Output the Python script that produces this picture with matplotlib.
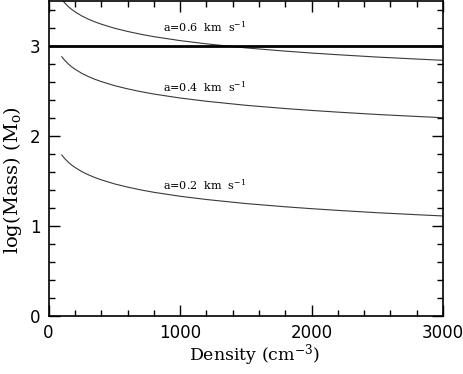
import numpy as np
import matplotlib
matplotlib.use("Agg")
import matplotlib.pyplot as plt
from matplotlib.ticker import MultipleLocator

plt.rcParams["mathtext.fontset"] = "dejavuserif"

# densities (cm^-3) and log(Mass)
density = [100, 120, 150, 175, 200, 250, 300, 350, 400, 500, 600, 700, 800,
           1000, 1200, 1500, 1800, 2000, 2200, 2500, 2800, 3000]
logm_02 = [1.786, 1.750, 1.705, 1.674, 1.648, 1.603, 1.567, 1.536, 1.510,
           1.465, 1.429, 1.398, 1.371, 1.327, 1.291, 1.246, 1.210, 1.189,
           1.170, 1.144, 1.122, 1.108]
logm_04 = [2.878, 2.842, 2.797, 2.766, 2.740, 2.695, 2.659, 2.628, 2.602,
           2.557, 2.521, 2.490, 2.463, 2.419, 2.383, 2.338, 2.302, 2.281,
           2.262, 2.236, 2.214, 2.200]
logm_06 = [3.516, 3.480, 3.435, 3.404, 3.378, 3.333, 3.297, 3.266, 3.240,
           3.195, 3.159, 3.128, 3.101, 3.057, 3.021, 2.976, 2.940, 2.919,
           2.900, 2.874, 2.852, 2.838]
mass_limit = 3.0

labels = [r"a=0.6  km  s$^{-1}$", r"a=0.4  km  s$^{-1}$", r"a=0.2  km  s$^{-1}$"]
label_pos = [(870, 3.21), (870, 2.55), (870, 1.45)]

fig = plt.figure(figsize=(4.63, 3.74), dpi=100)
ax = fig.add_axes([0.105, 0.156, 0.852, 0.842])

for y in (logm_02, logm_04, logm_06):
    ax.plot(density, y, color="#3a3a3a", lw=0.8)
ax.axhline(mass_limit, color="black", lw=2)

for txt, (x, y) in zip(labels, label_pos):
    ax.text(x, y, txt, fontsize=8, family="DejaVu Serif", va="center", ha="left")

ax.set_xlim(0, 3000)
ax.set_ylim(0, 3.5)
ax.xaxis.set_major_locator(MultipleLocator(1000))
ax.xaxis.set_minor_locator(MultipleLocator(200))
ax.yaxis.set_major_locator(MultipleLocator(1))
ax.yaxis.set_minor_locator(MultipleLocator(0.2))
ax.tick_params(which="both", direction="in", top=True, right=True, width=1)
ax.tick_params(which="major", length=8, labelsize=12)
ax.tick_params(which="minor", length=4)
ax.tick_params(axis="x", pad=6)
ax.tick_params(axis="y", pad=6)
for s in ax.spines.values():
    s.set_linewidth(1.2)

ax.set_xlabel(r"Density (cm$^{-3}$)", fontsize=12.5, family="DejaVu Serif")
ax.set_ylabel(r"log(Mass) (M$_{\rm o}$)", fontsize=14, family="DejaVu Serif")
ax.xaxis.set_label_coords(0.523, -0.085)
ax.yaxis.set_label_coords(-0.062, 0.43)

fig.savefig("out.png", dpi=100)
